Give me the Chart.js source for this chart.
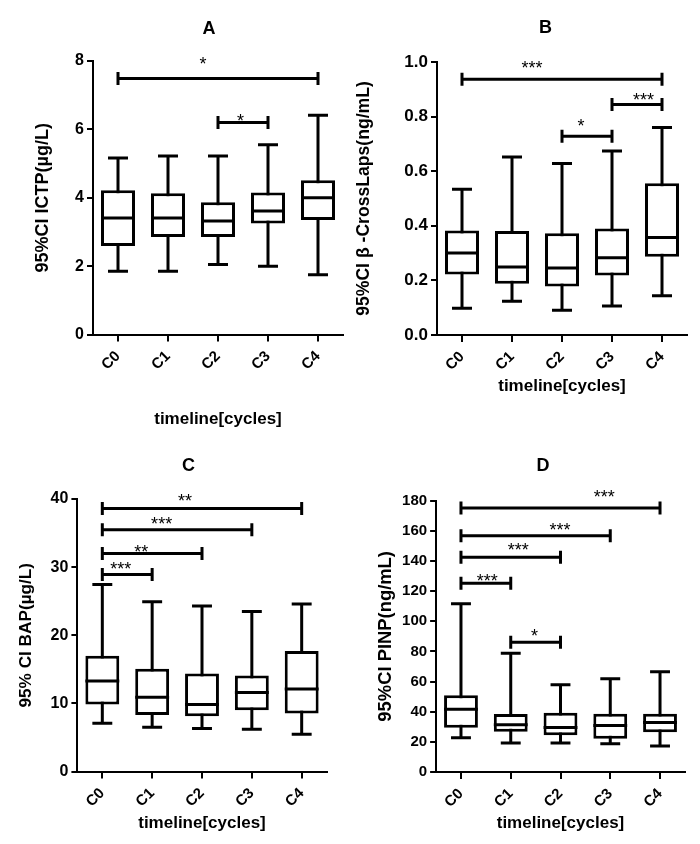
<!DOCTYPE html>
<html>
<head>
<meta charset="utf-8">
<script src="https://cdn.jsdelivr.net/npm/chart.js@4.4.1/dist/chart.umd.min.js"></script>
<style>
html,body{margin:0;padding:0;background:#fff;}
body{width:700px;height:844px;position:relative;overflow:hidden;}
.pane{position:absolute;}
.pane canvas{display:block;}
</style>
</head>
<body>
<div class="pane"><canvas id="cA"></canvas></div>
<div class="pane"><canvas id="cB"></canvas></div>
<div class="pane"><canvas id="cC"></canvas></div>
<div class="pane"><canvas id="cD"></canvas></div>
<script>
// ---------------- data ----------------
const categories = ['C0', 'C1', 'C2', 'C3', 'C4'];

// Panel A – ICTP (µg/L)
const ictpLow    = [1.85, 1.85, 2.05, 2.00, 1.75];
const ictpQ1     = [2.59, 2.85, 2.85, 3.25, 3.35];
const ictpMedian = [3.41, 3.41, 3.32, 3.61, 4.00];
const ictpQ3     = [4.22, 4.13, 3.87, 4.15, 4.51];
const ictpHigh   = [5.16, 5.22, 5.22, 5.55, 6.41];
const ictpTicks  = [0, 2, 4, 6, 8];
const ictpTickLabels = ['0', '2', '4', '6', '8'];
// [from, to, bar value, label, label category position, label value]
const ictpBrackets = [
  ['C0', 'C4', 7.49, '*', 1.70, 8.05],
  ['C2', 'C3', 6.20, '*', 2.45, 6.37]
];

// Panel B – β-CrossLaps (ng/mL)
const ctxLow    = [0.098, 0.124, 0.091, 0.106, 0.144];
const ctxQ1     = [0.222, 0.188, 0.178, 0.218, 0.287];
const ctxMedian = [0.300, 0.249, 0.245, 0.283, 0.357];
const ctxQ3     = [0.383, 0.381, 0.373, 0.390, 0.556];
const ctxHigh   = [0.534, 0.652, 0.628, 0.674, 0.760];
const ctxTicks  = [0, 0.2, 0.4, 0.6, 0.8, 1.0];
const ctxTickLabels = ['0.0', '0.2', '0.4', '0.6', '0.8', '1.0'];
const ctxBrackets = [
  ['C0', 'C4', 0.937, '***', 1.40, 0.994],
  ['C3', 'C4', 0.844, '***', 3.63, 0.878],
  ['C2', 'C3', 0.728, '*',   2.38, 0.780]
];

// Panel C – BAP (µg/L)
const bapLow    = [7.1, 6.5, 6.3, 6.2, 5.45];
const bapQ1     = [9.85, 8.3, 8.1, 9.0, 8.5];
const bapMedian = [13.3, 10.9, 9.85, 11.6, 12.1];
const bapQ3     = [17.0, 15.1, 14.4, 14.1, 17.7];
const bapHigh   = [27.45, 24.9, 24.3, 23.5, 24.6];
const bapTicks  = [0, 10, 20, 30, 40];
const bapTickLabels = ['0', '10', '20', '30', '40'];
const bapBrackets = [
  ['C0', 'C4', 38.6, '**',  1.66, 40.3],
  ['C0', 'C3', 35.5, '***', 1.19, 36.9],
  ['C0', 'C2', 32.0, '**',  0.78, 32.9],
  ['C0', 'C1', 28.9, '***', 0.37, 30.3]
];

// Panel D – PINP (ng/mL)
const pinpLow    = [22.7, 19.2, 19.2, 18.8, 17.2];
const pinpQ1     = [29.4, 26.7, 24.3, 22.1, 26.3];
const pinpMedian = [41.7, 31.4, 29.6, 30.9, 32.9];
const pinpQ3     = [51.0, 38.4, 39.3, 38.6, 38.6];
const pinpHigh   = [111.7, 78.8, 57.9, 61.8, 66.5];
const pinpTicks  = [0, 20, 40, 60, 80, 100, 120, 140, 160, 180];
const pinpTickLabels = ['0', '20', '40', '60', '80', '100', '120', '140', '160', '180'];
const pinpBrackets = [
  ['C0', 'C4', 175.1, '***', 2.88, 185.5],
  ['C0', 'C3', 156.8, '***', 1.99, 163.4],
  ['C0', 'C2', 142.4, '***', 1.15, 150.2],
  ['C0', 'C1', 125.2, '***', 0.53, 129.6],
  ['C1', 'C2', 86.1,  '*',   1.48, 93.4]
];

// ---------------- rendering ----------------
const FONT = "'Liberation Sans', Arial, Helvetica, sans-serif";
Chart.defaults.font.family = FONT;
Chart.defaults.color = '#000';

function makePanel(p) {
  const canvas = document.getElementById(p.id);
  const pane = canvas.parentNode;
  pane.style.left = p.pane.x + 'px';
  pane.style.top = p.pane.y + 'px';
  pane.style.width = p.pane.w + 'px';
  pane.style.height = p.pane.h + 'px';

  const catIndex = c => categories.indexOf(c);

  const boxPlugin = {
    id: 'boxplot_' + p.id,
    beforeDatasetsDraw(chart) {
      const {ctx, scales: {x, y}} = chart;
      const step = x.getPixelForValue(1) - x.getPixelForValue(0);
      const capHalf = step * 0.2;
      ctx.save();
      ctx.strokeStyle = '#000';
      ctx.lineWidth = 3;
      for (let i = 0; i < categories.length; i++) {
        const cx = x.getPixelForValue(i);
        const yl = y.getPixelForValue(p.low[i]);
        const yh = y.getPixelForValue(p.high[i]);
        ctx.beginPath();
        ctx.moveTo(cx, yl); ctx.lineTo(cx, yh);
        ctx.moveTo(cx - capHalf, yl); ctx.lineTo(cx + capHalf, yl);
        ctx.moveTo(cx - capHalf, yh); ctx.lineTo(cx + capHalf, yh);
        ctx.stroke();
      }
      ctx.restore();
    },
    afterDatasetsDraw(chart) {
      const {ctx, scales: {y}} = chart;
      const meta = chart.getDatasetMeta(0);
      ctx.save();
      ctx.strokeStyle = '#000';
      ctx.lineWidth = 3;
      meta.data.forEach((bar, i) => {
        const ym = y.getPixelForValue(p.median[i]);
        ctx.beginPath();
        ctx.moveTo(bar.x - bar.width / 2, ym);
        ctx.lineTo(bar.x + bar.width / 2, ym);
        ctx.stroke();
      });
      ctx.restore();
    },
    afterDraw(chart) {
      const {ctx, scales: {x, y}} = chart;
      ctx.save();
      ctx.strokeStyle = '#000';
      ctx.fillStyle = '#000';
      ctx.lineWidth = 3;
      for (const [from, to, at, label, lx, ly] of p.brackets) {
        const x1 = x.getPixelForValue(catIndex(from));
        const x2 = x.getPixelForValue(catIndex(to));
        const yy = y.getPixelForValue(at);
        ctx.beginPath();
        ctx.moveTo(x1, yy); ctx.lineTo(x2, yy);
        ctx.moveTo(x1, yy - 6.5); ctx.lineTo(x1, yy + 6.5);
        ctx.moveTo(x2, yy - 6.5); ctx.lineTo(x2, yy + 6.5);
        ctx.stroke();
        ctx.font = '18px ' + FONT;
        ctx.textAlign = 'center';
        ctx.textBaseline = 'alphabetic';
        ctx.fillText(label, x.getPixelForValue(lx), y.getPixelForValue(ly) + 10.3);
      }
      // panel title
      ctx.font = 'bold 18px ' + FONT;
      ctx.textAlign = 'center';
      ctx.textBaseline = 'middle';
      ctx.fillText(p.title, p.titlePos[0] - p.pane.x, p.titlePos[1] - p.pane.y);
      ctx.restore();
    }
  };

  return new Chart(canvas, {
    type: 'bar',
    data: {
      labels: categories,
      datasets: [{
        data: categories.map((c, i) => [p.q1[i], p.q3[i]]),
        backgroundColor: '#fff',
        borderColor: '#000',
        borderWidth: 3,
        borderSkipped: false,
        barPercentage: 0.68,
        categoryPercentage: 1
      }]
    },
    options: {
      responsive: true,
      maintainAspectRatio: false,
      animation: false,
      devicePixelRatio: 1,
      events: [],
      layout: {
        padding: {
          left: 0,
          top: p.area.T - p.pane.y,
          right: p.pane.x + p.pane.w - p.area.R,
          bottom: 0
        }
      },
      plugins: {
        legend: {display: false},
        title: {display: false},
        tooltip: {enabled: false}
      },
      scales: {
        x: {
          type: 'category',
          offset: true,
          ticks: {
            minRotation: 45, maxRotation: 45,
            color: '#000', padding: 6,
            font: {size: 15, weight: 'bold'}
          },
          grid: {
            offset: false, drawOnChartArea: false,
            color: '#000', lineWidth: 2, tickLength: 7
          },
          border: {display: true, color: '#000', width: 2},
          title: {
            display: true, text: 'timeline[cycles]', color: '#000',
            font: {size: 17, weight: 'bold'},
            padding: {top: 0, bottom: p.xTitlePad}
          },
          afterFit: s => { s.height = p.pane.y + p.pane.h - p.area.B; }
        },
        y: {
          min: p.ticks[0],
          max: p.ticks[p.ticks.length - 1],
          afterBuildTicks: s => { s.ticks = p.ticks.map(v => ({value: v})); },
          ticks: {
            color: '#000', padding: 3,
            font: {size: p.tickFont, weight: 'bold'},
            callback: (v, i) => p.tickLabels[i]
          },
          grid: {
            drawOnChartArea: false,
            color: '#000', lineWidth: 2, tickLength: 6
          },
          border: {display: true, color: '#000', width: 2},
          title: {
            display: true, text: p.yTitle, color: '#000',
            font: {size: p.yTitleFont, weight: 'bold'},
            padding: {top: p.yTitleX - p.yTitleFont * 0.6, bottom: 0}
          },
          afterFit: s => { s.width = p.area.L - p.pane.x; }
        }
      }
    },
    plugins: [boxPlugin]
  });
}

makePanel({
  id: 'cA', title: 'A', titlePos: [209, 29],
  pane: {x: 0, y: 0, w: 350, h: 432},
  area: {L: 93, T: 61, R: 343, B: 334.5},
  low: ictpLow, q1: ictpQ1, median: ictpMedian, q3: ictpQ3, high: ictpHigh,
  ticks: ictpTicks, tickLabels: ictpTickLabels, brackets: ictpBrackets,
  tickFont: 16, yTitle: '95%CI ICTP(µg/L)', yTitleFont: 18, yTitleX: 43,
  xTitlePad: 2
});
makePanel({
  id: 'cB', title: 'B', titlePos: [545.5, 28.5],
  pane: {x: 350, y: 0, w: 350, h: 432},
  area: {L: 437, T: 62, R: 687, B: 335},
  low: ctxLow, q1: ctxQ1, median: ctxMedian, q3: ctxQ3, high: ctxHigh,
  ticks: ctxTicks, tickLabels: ctxTickLabels, brackets: ctxBrackets,
  tickFont: 17, yTitle: '95%CI β -CrossLaps(ng/mL)', yTitleFont: 17.6, yTitleX: 14,
  xTitlePad: 35.8
});
makePanel({
  id: 'cC', title: 'C', titlePos: [188.5, 465.7],
  pane: {x: 0, y: 432, w: 350, h: 412},
  area: {L: 77.4, T: 499, R: 326.6, B: 771.5},
  low: bapLow, q1: bapQ1, median: bapMedian, q3: bapQ3, high: bapHigh,
  ticks: bapTicks, tickLabels: bapTickLabels, brackets: bapBrackets,
  tickFont: 16, yTitle: '95% CI BAP(µg/L)', yTitleFont: 17.2, yTitleX: 26.7,
  xTitlePad: 10.8
});
makePanel({
  id: 'cD', title: 'D', titlePos: [543, 466.5],
  pane: {x: 350, y: 432, w: 350, h: 412},
  area: {L: 436.1, T: 500.7, R: 684.9, B: 772},
  low: pinpLow, q1: pinpQ1, median: pinpMedian, q3: pinpQ3, high: pinpHigh,
  ticks: pinpTicks, tickLabels: pinpTickLabels, brackets: pinpBrackets,
  tickFont: 15, yTitle: '95%CI PINP(ng/mL)', yTitleFont: 18.4, yTitleX: 36,
  xTitlePad: 10.8
});
</script>
</body>
</html>
